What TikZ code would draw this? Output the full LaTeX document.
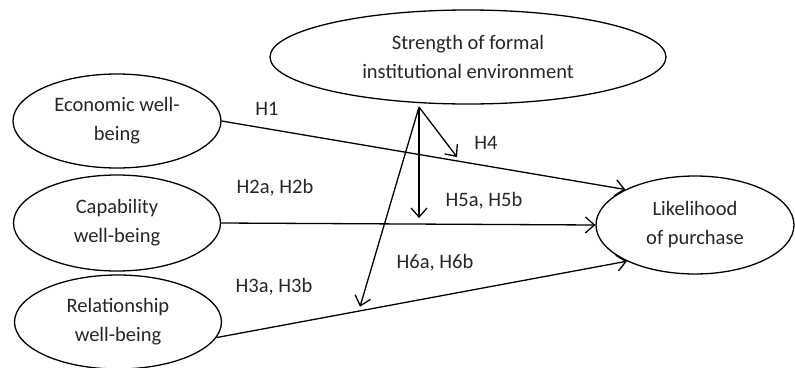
\documentclass[tikz,border=0pt]{standalone}
\usepackage{fontspec}
\setmainfont{Carlito}
\usetikzlibrary{shapes.geometric,arrows.meta}
\begin{document}
\begin{tikzpicture}[x=1pt,y=-1pt,
  oval/.style={draw,ellipse,line width=1.3pt,inner sep=0pt,align=center,
    font=\fontsize{20.5}{29}\selectfont,text=black!85},
  lbl/.style={font=\fontsize{20.5}{29}\selectfont,text=black!85,inner sep=0pt},
  conn/.style={line width=1.3pt},
  arr/.style={conn,-{Straight Barb[length=9pt,width=16pt,line width=1.3pt]}}]
\useasboundingbox (0,0) rectangle (795,367);
\node[oval,minimum width=396pt,minimum height=94pt] (str) at (468,57) {Strength of formal\\institutional environment};
\node[oval,minimum width=208pt,minimum height=94pt] (eco) at (117,121) {Economic well-\\being};
\node[oval,minimum width=207pt,minimum height=96pt] (cap) at (117,223) {Capability\\well-being};
\node[oval,minimum width=207pt,minimum height=94pt] (rel) at (118,322) {Relationship\\well-being};
\node[oval,minimum width=198pt,minimum height=98pt] (lik) at (695,225) {Likelihood\\of purchase};
\coordinate (m) at (419,107);
\coordinate (h4) at (457,157);
\coordinate (h5) at (419,218);
\coordinate (h6) at (360,306.7);
\draw[arr] (eco.east) -- (lik.153);
\draw[arr] (cap.east) -- (lik.west);
\draw[arr] (rel.-9) -- (lik.208);
\draw[arr] (m) -- (h4);
\draw[arr] (m) -- (h5);
\draw[arr] (m) -- (h6);
\node[lbl] (l1) at (267,109) {H1};
\node[lbl] (l2) at (275,188) {H2a, H2b};
\node[lbl] (l3) at (274,287) {H3a, H3b};
\node[lbl] (l4) at (486,143) {H4};
\node[lbl] (l5) at (484,201) {H5a, H5b};
\node[lbl] (l6) at (435,263) {H6a, H6b};
\end{tikzpicture}
\end{document}
